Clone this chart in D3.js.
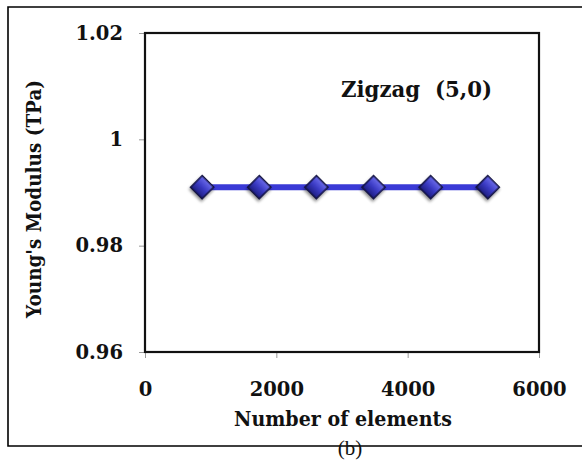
<!DOCTYPE html>
<html>
<head>
<meta charset="utf-8">
<script src="https://cdn.jsdelivr.net/npm/d3@7"></script>
<style>
  html, body { margin: 0; padding: 0; background: #fff; }
  svg { display: block; }
  .tick text { font-family: "DejaVu Serif", serif; font-weight: bold; }
</style>
</head>
<body>
<svg id="chart" width="582" height="461"></svg>
<script>
// number of elements vs young's modulus, zigzag (5,0)
const elements = [870, 1740, 2610, 3480, 4350, 5220];
const modulus = [0.991, 0.991, 0.991, 0.991, 0.991, 0.991];
const xTicks = [0, 2000, 4000, 6000];
const yTicks = [0.96, 0.98, 1, 1.02];

const svg = d3.select("#chart");
const W = 582, H = 461;
const plot = {left: 145, right: 539, top: 33, bottom: 352};

// outer frame (right side runs off the picture)
svg.append("path")
    .attr("d", `M${W + 2},7 L8,7 L8,446 L${W + 2},446`)
    .attr("fill", "none")
    .attr("stroke", "#000")
    .attr("stroke-width", 1.6);

const x = d3.scaleLinear().domain([0, 6000]).range([plot.left, plot.right]);
const y = d3.scaleLinear().domain([0.96, 1.02]).range([plot.bottom, plot.top]);

// axes
const xAxis = svg.append("g")
    .attr("transform", `translate(0,${plot.bottom})`)
    .call(d3.axisBottom(x).tickValues(xTicks).tickSize(6).tickPadding(24).tickFormat(d3.format("d")));
xAxis.select(".domain").remove();
xAxis.selectAll(".tick line").attr("stroke", "#999");
xAxis.selectAll(".tick text").attr("font-size", 19.5).attr("fill", "#111");

const yAxis = svg.append("g")
    .attr("transform", `translate(${plot.left},0)`)
    .call(d3.axisLeft(y).tickValues(yTicks).tickSize(6).tickPadding(16).tickFormat(d => d === 1 ? "1" : d3.format(".2f")(d)));
yAxis.select(".domain").remove();
yAxis.selectAll(".tick line").attr("stroke", "#999");
yAxis.selectAll(".tick text").attr("font-size", 19.5).attr("fill", "#111");

// plot frame
svg.append("rect")
    .attr("x", plot.left).attr("y", plot.top)
    .attr("width", plot.right - plot.left).attr("height", plot.bottom - plot.top)
    .attr("fill", "none").attr("stroke", "#111").attr("stroke-width", 2.2);

// marker styling
const defs = svg.append("defs");
const grad = defs.append("linearGradient").attr("id", "diamondFill")
    .attr("x1", "0").attr("y1", "0").attr("x2", "0").attr("y2", "1");
grad.append("stop").attr("offset", "0%").attr("stop-color", "#6b6bea");
grad.append("stop").attr("offset", "50%").attr("stop-color", "#3b3bc4");
grad.append("stop").attr("offset", "100%").attr("stop-color", "#1e1e80");
const shadow = defs.append("filter").attr("id", "shadow")
    .attr("x", "-50%").attr("y", "-50%").attr("width", "200%").attr("height", "200%");
shadow.append("feDropShadow")
    .attr("dx", 1).attr("dy", 2).attr("stdDeviation", 1.5)
    .attr("flood-color", "#000").attr("flood-opacity", 0.45);

const data = elements.map((e, i) => ({x: e, y: modulus[i]}));

svg.append("path")
    .datum(data)
    .attr("d", d3.line().x(d => x(d.x)).y(d => y(d.y)))
    .attr("fill", "none")
    .attr("stroke", "#3a3ad6")
    .attr("stroke-width", 6);

const diamond = d3.symbol().type(d3.symbolSquare).size(265);
svg.append("g").selectAll("path.pt")
    .data(data)
    .join("path")
    .attr("class", "pt")
    .attr("d", diamond)
    .attr("transform", d => `translate(${x(d.x)},${y(d.y)}) rotate(45)`)
    .attr("fill", "url(#diamondFill)")
    .attr("stroke", "#12123e")
    .attr("stroke-width", 1.5)
    .attr("filter", "url(#shadow)");

// labels
svg.append("text")
    .attr("x", 341).attr("y", 97)
    .attr("font-family", "DejaVu Serif, serif").attr("font-weight", "bold")
    .attr("font-size", 23).attr("fill", "#111")
    .attr("textLength", 151).attr("lengthAdjust", "spacingAndGlyphs")
    .attr("xml:space", "preserve")
    .text("Zigzag  (5,0)");

svg.append("text")
    .attr("x", 343).attr("y", 426)
    .attr("text-anchor", "middle")
    .attr("font-family", "DejaVu Serif, serif").attr("font-weight", "bold")
    .attr("font-size", 19.5).attr("fill", "#111")
    .attr("textLength", 218).attr("lengthAdjust", "spacingAndGlyphs")
    .text("Number of elements");

svg.append("text")
    .attr("transform", "translate(41,199) rotate(-90)")
    .attr("text-anchor", "middle")
    .attr("font-family", "DejaVu Serif, serif").attr("font-weight", "bold")
    .attr("font-size", 19.5).attr("fill", "#111")
    .attr("textLength", 238).attr("lengthAdjust", "spacingAndGlyphs")
    .text("Young's Modulus (TPa)");

svg.append("text")
    .attr("x", 350).attr("y", 455)
    .attr("text-anchor", "middle")
    .attr("font-family", "Liberation Serif, serif")
    .attr("font-size", 21).attr("fill", "#111")
    .text("(b)");
</script>
</body>
</html>
